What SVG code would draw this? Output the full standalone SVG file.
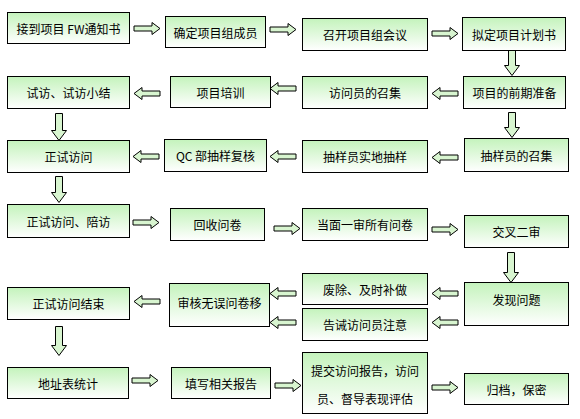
<svg xmlns="http://www.w3.org/2000/svg" width="580" height="419" viewBox="0 0 580 419">
<defs>
<linearGradient id="g" x1="0" y1="0" x2="0" y2="1">
<stop offset="0" stop-color="#c4f3bc"/>
<stop offset="1" stop-color="#ffffff"/>
</linearGradient>
<path id="ar" d="M0,-2.5H18V-6L26,0L18,6V2.5H0Z"/>
<path id="al" d="M0,-2.5H-18V-6L-26,0L-18,6V2.5H0Z"/>
</defs>
<style>
rect.n{fill:url(#g);stroke:#000;stroke-width:1}
text{font-family:"Noto Sans CJK SC","Liberation Sans",sans-serif;font-size:12px;fill:#000;text-anchor:middle;dominant-baseline:central}
#connectors use,#connectors path{fill:#d8f5d0;stroke:#000;stroke-width:1}
</style>
<rect width="580" height="419" fill="#fff"/>
<g id="connectors">
<use href="#ar" x="134" y="28.5"/>
<use href="#ar" x="270" y="29.5"/>
<use href="#ar" x="432" y="33.5"/>
<use href="#al" x="458" y="93.5"/>
<use href="#al" x="296" y="88.5"/>
<use href="#al" x="160" y="93.5"/>
<use href="#al" x="458" y="157.5"/>
<use href="#al" x="296" y="156.5"/>
<use href="#al" x="159" y="156.5"/>
<use href="#ar" x="133" y="222.5"/>
<use href="#ar" x="274" y="228.5"/>
<use href="#ar" x="432" y="229.5"/>
<use href="#al" x="458" y="293.5"/>
<use href="#al" x="458" y="322.5"/>
<use href="#al" x="296" y="293.5"/>
<use href="#al" x="296" y="322.5"/>
<use href="#al" x="160" y="301.5"/>
<use href="#ar" x="132" y="380.5"/>
<use href="#ar" x="275" y="385.5"/>
<use href="#ar" x="432" y="387.5"/>
<path d="M508.5,50.5H515.5V65.5H519.5L512,75.5L504.5,65.5H508.5Z"/>
<path d="M508.5,112.5H515.5V127.5H519.5L512,137.5L504.5,127.5H508.5Z"/>
<path d="M55.5,113.5H62.5V130.5H66.5L59,140.5L51.5,130.5H55.5Z"/>
<path d="M55.5,176.5H62.5V192.5H66.5L59,202.5L51.5,192.5H55.5Z"/>
<path d="M507.5,252.5H514.5V272.5H518.5L511,282.5L503.5,272.5H507.5Z"/>
<path d="M55.5,326.5H62.5V345.5H66.5L59,355.5L51.5,345.5H55.5Z"/>
</g>
<g id="n1"><rect class="n" x="7.5" y="12.5" width="122" height="31"/><text x="68.5" y="28">接到项目 FW通知书</text></g>
<g id="n2"><rect class="n" x="165.5" y="16.5" width="100" height="31"/><text x="215.5" y="32">确定项目组成员</text></g>
<g id="n3"><rect class="n" x="302.5" y="18.5" width="125" height="32"/><text x="365" y="34.5">召开项目组会议</text></g>
<g id="n4"><rect class="n" x="462.5" y="17.5" width="103" height="33"/><text x="514" y="34">拟定项目计划书</text></g>
<g id="n5"><rect class="n" x="463.5" y="76.5" width="102" height="32"/><text x="514.5" y="92.5">项目的前期准备</text></g>
<g id="n6"><rect class="n" x="302.5" y="76.5" width="125" height="32"/><text x="365" y="92.5">访问员的召集</text></g>
<g id="n7"><rect class="n" x="170.5" y="76.5" width="100" height="31"/><text x="220.5" y="92">项目培训</text></g>
<g id="n8"><rect class="n" x="7.5" y="76.5" width="122" height="32"/><text x="68.5" y="92.5">试访、试访小结</text></g>
<g id="n9"><rect class="n" x="7.5" y="140.5" width="122" height="32"/><text x="68.5" y="156.5">正试访问</text></g>
<g id="n10"><rect class="n" x="164.5" y="139.5" width="102" height="32"/><text x="215.5" y="155.5">QC 部抽样复核</text></g>
<g id="n11"><rect class="n" x="302.5" y="140.5" width="125" height="32"/><text x="365" y="156.5">抽样员实地抽样</text></g>
<g id="n12"><rect class="n" x="464.5" y="138.5" width="104" height="33"/><text x="516.5" y="155">抽样员的召集</text></g>
<g id="n13"><rect class="n" x="7.5" y="204.5" width="122" height="33"/><text x="68.5" y="221">正试访问、陪访</text></g>
<g id="n14"><rect class="n" x="170.5" y="208.5" width="94" height="32"/><text x="217.5" y="224.5">回收问卷</text></g>
<g id="n15"><rect class="n" x="302.5" y="208.5" width="125" height="32"/><text x="365" y="224.5">当面一审所有问卷</text></g>
<g id="n16"><rect class="n" x="464.5" y="215.5" width="104" height="32"/><text x="516.5" y="231.5">交叉二审</text></g>
<g id="n17"><rect class="n" x="464.5" y="282.5" width="104" height="43"/><text x="516.5" y="299">发现问题</text></g>
<g id="n18"><rect class="n" x="302.5" y="273.5" width="125" height="31"/><text x="365" y="289">废除、及时补做</text></g>
<g id="n19"><rect class="n" x="302.5" y="308.5" width="125" height="32"/><text x="365" y="324.5">告诫访问员注意</text></g>
<g id="n20"><rect class="n" x="169.5" y="283.5" width="100" height="43"/><text x="219.5" y="302">审核无误问卷移</text></g>
<g id="n21"><rect class="n" x="7.5" y="287.5" width="122" height="32"/><text x="68.5" y="303.5">正试访问结束</text></g>
<g id="n22"><rect class="n" x="7.5" y="367.5" width="121" height="31"/><text x="68" y="383">地址表统计</text></g>
<g id="n23"><rect class="n" x="171.5" y="367.5" width="99" height="31"/><text x="221" y="383">填写相关报告</text></g>
<g id="n24"><rect class="n" x="302.5" y="352.5" width="125" height="61"/><text x="365" y="370">提交访问报告，访问</text><text x="365" y="398">员、督导表现评估</text></g>
<g id="n25"><rect class="n" x="464.5" y="373.5" width="104" height="31"/><text x="516.5" y="389">归档，保密</text></g>
</svg>
